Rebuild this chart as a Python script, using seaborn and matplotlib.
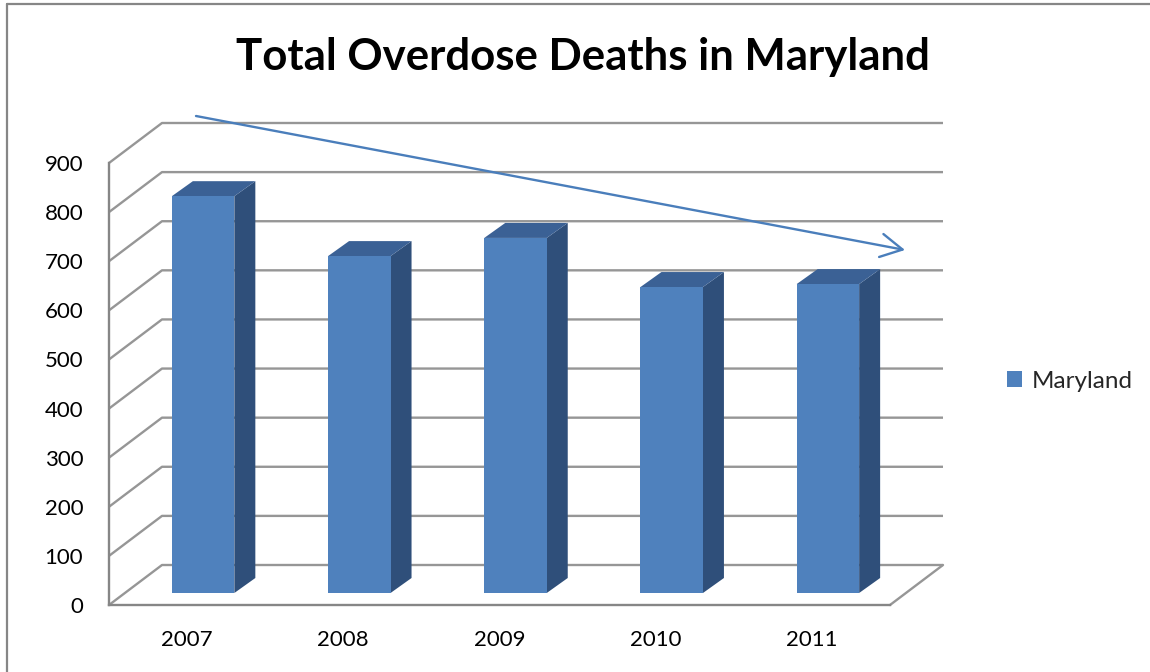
import numpy as np
import pandas as pd
import matplotlib
matplotlib.use("Agg")
import matplotlib.pyplot as plt
import seaborn as sns
from matplotlib.patches import Polygon, FancyArrowPatch
from matplotlib.lines import Line2D

# ---- data ----
years = ["2007", "2008", "2009", "2010", "2011"]
deaths = [808, 686, 723, 623, 629]
state = ["Maryland"] * len(years)
y_ticks = [0, 100, 200, 300, 400, 500, 600, 700, 800, 900]
title = "Total Overdose Deaths in Maryland"

df = pd.DataFrame({"year": years, "deaths": deaths, "state": state})

# ---- style ----
sns.set_style("white")
plt.rcParams["font.family"] = ["Lato", "DejaVu Sans"]

FRONT = "#4F81BD"
TOP = "#3B6195"
SIDE = "#2F4F7A"
GRID = "#969696"
AXIS = "#868686"
ARROW = "#4A7EBB"

W, H, DPI = 1150, 672, 100
fig = plt.figure(figsize=(W / DPI, H / DPI), dpi=DPI)
fig.patch.set_facecolor("white")

# plotting area = front plane of the 3-D box
ax_left, ax_right, ax_bottom, ax_top = 109, 890, 605, 163
ax = fig.add_axes([ax_left / W, (H - ax_bottom) / H,
                   (ax_right - ax_left) / W, (ax_bottom - ax_top) / H])
ax.set_facecolor("none")

n = len(years)
px_per_cat = (ax_right - ax_left) / n
px_per_val = (ax_bottom - ax_top) / 900.0


def cx(px):
    return px / px_per_cat


def cy(px):
    return px / px_per_val


# oblique depth offsets (pixels converted to data units)
WALL_DX, WALL_DY = cx(53), cy(40)
BAR_DX, BAR_DY = cx(21), cy(15)
SET_DX, SET_DY = cx(16), cy(12)

# back wall gridlines with the left-wall diagonals
for v in y_ticks:
    ax.plot([-0.5, -0.5 + WALL_DX, n - 0.5 + WALL_DX],
            [v, v + WALL_DY, v + WALL_DY],
            color=GRID, lw=1.7, clip_on=False, zorder=0,
            solid_capstyle="butt")
# right edge of the floor
ax.plot([n - 0.5, n - 0.5 + WALL_DX], [0, WALL_DY],
        color=GRID, lw=1.7, clip_on=False, zorder=0)

# front faces of the columns
sns.barplot(data=df, x="year", y="deaths", hue="state", palette=[FRONT],
            width=0.4, dodge=False, saturation=1, linewidth=0,
            ax=ax, zorder=3)

# push the columns back into the box and add their top and side faces
for bar in ax.containers[0]:
    x0 = bar.get_x() + SET_DX
    w = bar.get_width()
    h = bar.get_height()
    b = SET_DY
    bar.set_x(x0)
    bar.set_y(b)
    bar.set_clip_on(False)
    side = Polygon([(x0 + w, b), (x0 + w + BAR_DX, b + BAR_DY),
                    (x0 + w + BAR_DX, b + h + BAR_DY), (x0 + w, b + h)],
                   closed=True, facecolor=SIDE, edgecolor="none",
                   zorder=2, clip_on=False)
    top = Polygon([(x0, b + h), (x0 + w, b + h),
                   (x0 + w + BAR_DX, b + h + BAR_DY), (x0 + BAR_DX, b + h + BAR_DY)],
                  closed=True, facecolor=TOP, edgecolor="none",
                  zorder=2, clip_on=False)
    ax.add_patch(side)
    ax.add_patch(top)

ax.set_xlim(-0.5, n - 0.5)
ax.set_ylim(0, 900)

# axes, ticks, labels
for s in ["top", "right"]:
    ax.spines[s].set_visible(False)
for s in ["left", "bottom"]:
    ax.spines[s].set_color(AXIS)
    ax.spines[s].set_linewidth(1.7)

ax.set_yticks(y_ticks)
ax.set_yticklabels([str(v) for v in y_ticks])
ax.tick_params(axis="y", length=6.5, width=1.4, color=AXIS, pad=12,
               labelsize=16, labelcolor="black")

ax.set_xticks(np.arange(-0.5, n, 1.0))
ax.set_xticklabels([])
ax.set_xticks(np.arange(n), minor=True)
ax.set_xticklabels(years, minor=True)
ax.tick_params(axis="x", which="major", length=5, width=1.4, color=AXIS)
ax.tick_params(axis="x", which="minor", length=0, pad=18,
               labelsize=16, labelcolor="black")
ax.set_xlabel("")
ax.set_ylabel("")

# legend at the right
handles, labels = ax.get_legend_handles_labels()
ax.legend(handles, labels, loc="center left",
          bbox_to_anchor=(1007 / W, 1 - 381 / H), bbox_transform=fig.transFigure,
          frameon=False, fontsize=17.5, handlelength=0.6, handleheight=0.6,
          handletextpad=0.4, borderaxespad=0, borderpad=0)

# title
fig.text(582.5 / W, 1 - 70 / H, title, ha="center", va="baseline",
         fontsize=31.5, fontweight="bold", color="black")

# trend arrow
fig.add_artist(FancyArrowPatch((196 / W, 1 - 116 / H), (905 / W, 1 - 250 / H),
                               transform=fig.transFigure,
                               arrowstyle="->,head_length=1.3,head_width=0.7",
                               mutation_scale=12, color=ARROW, lw=1.7,
                               shrinkA=0, shrinkB=0))

# chart-area border
fig.add_artist(Line2D([7 / W, 7 / W], [0, 1 - 4 / H], transform=fig.transFigure,
                      color=AXIS, lw=1.6))
fig.add_artist(Line2D([7 / W, 1], [1 - 4 / H, 1 - 4 / H], transform=fig.transFigure,
                      color=AXIS, lw=1.6))

fig.savefig("out.png", dpi=DPI, facecolor="white")
